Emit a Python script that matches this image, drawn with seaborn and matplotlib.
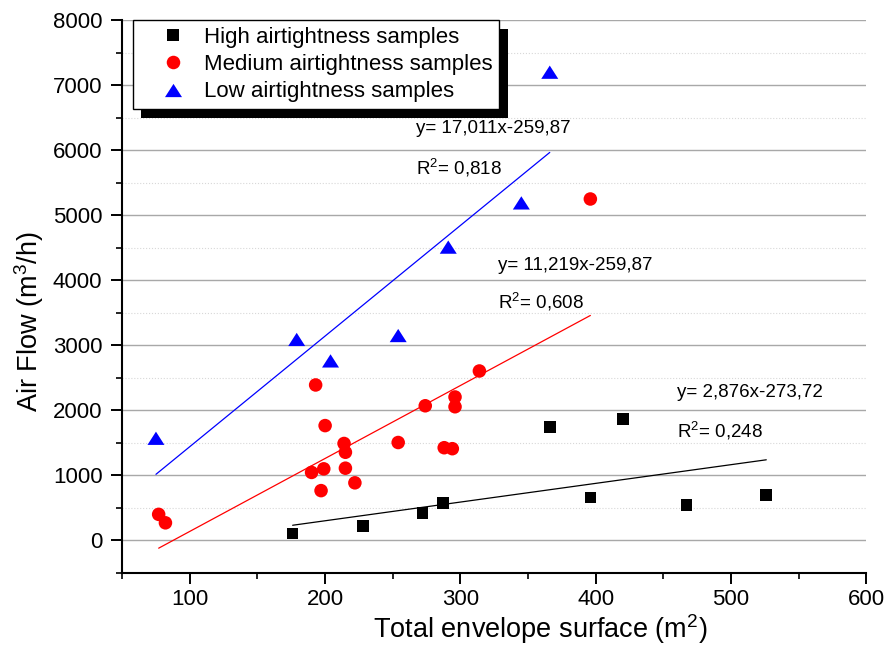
import matplotlib
matplotlib.use("Agg")
import matplotlib.pyplot as plt
import matplotlib.patheffects as pe
from matplotlib.lines import Line2D
from matplotlib.ticker import MultipleLocator
import seaborn as sns
import numpy as np
import pandas as pd

# High airtightness samples
high_x = [176, 228, 272, 287, 366, 420, 396, 467, 526]
high_y = [105, 225, 425, 570, 1740, 1870, 660, 540, 700]

# Medium airtightness samples
med_x = [77, 82, 193, 200, 190, 199, 197, 214, 215, 215, 222, 254, 274, 296, 296, 288, 294, 314, 396]
med_y = [400, 270, 2390, 1765, 1045, 1100, 765, 1490, 1355, 1110, 885, 1505, 2070, 2205, 2055, 1425, 1410, 2605, 5250]

# Low airtightness samples
low_x = [75, 179, 204, 254, 291, 345, 366]
low_y = [1570, 3090, 2760, 3150, 4510, 5190, 7200]

# linear fits (slope, intercept) as drawn in the figure
fit_high = (2.876, -273.72)
fit_med = (11.219, -984.0)
fit_low = (17.011, -259.87)

labels = ["High airtightness samples", "Medium airtightness samples", "Low airtightness samples"]
eq_texts = ["y= 2,876x-273,72", "y= 11,219x-259,87", "y= 17,011x-259,87"]
r2_texts = ["0,248", "0,608", "0,818"]

sns.set_theme(style="white")
plt.rcParams["font.family"] = ["Liberation Sans", "DejaVu Sans"]
plt.rcParams["mathtext.fontset"] = "custom"
plt.rcParams["mathtext.rm"] = "Liberation Sans"
for k in ["text.color", "axes.labelcolor", "xtick.color", "ytick.color"]:
    plt.rcParams[k] = "black"

fig = plt.figure(figsize=(8.85, 6.51), dpi=100)
ax = fig.add_axes([0.138, 0.12, 0.841, 0.849])

tri = [(-1, -0.78), (1, -0.78), (0, 0.78)]
groups = [
    (high_x, high_y, "black", "s", 70, fit_high),
    (med_x, med_y, "red", "o", 95, fit_med),
    (low_x, low_y, "blue", tri, 150, fit_low),
]

handles = []
for (gx, gy, col, mk, sz, fit), lab in zip(groups, labels):
    df = pd.DataFrame({"x": gx, "y": gy})
    sns.scatterplot(data=df, x="x", y="y", color=col, marker=mk, s=sz,
                    edgecolor="none", linewidth=0, ax=ax, zorder=3)
    xl = np.array([min(gx), max(gx)])
    line = pd.DataFrame({"x": xl, "y": fit[0] * xl + fit[1]})
    sns.lineplot(data=line, x="x", y="y", color=col, linewidth=0.9, ax=ax, zorder=2)
    handles.append(Line2D([], [], color=col, marker=mk, linestyle="none",
                          markersize=np.sqrt(sz), markeredgewidth=0, label=lab))

# equation annotations
ann_pos = [(460, 2280, 1690), (328, 4230, 3660), (267, 6340, 5720)]
for (x0, ye, yr), eq, r2 in zip(ann_pos, eq_texts, r2_texts):
    ax.text(x0, ye, eq, fontsize=13.5, va="center", ha="left")
    ax.text(x0, yr, r"$\mathregular{R^{2}}$= " + r2, fontsize=13.5, va="center", ha="left")

ax.set_xlim(50, 600)
ax.set_ylim(-500, 8000)
ax.xaxis.set_major_locator(MultipleLocator(100))
ax.xaxis.set_minor_locator(MultipleLocator(50))
ax.yaxis.set_major_locator(MultipleLocator(1000))
ax.yaxis.set_minor_locator(MultipleLocator(500))
ax.set_xticks([100, 200, 300, 400, 500, 600])

ax.yaxis.grid(True, which="major", color="#a8a8a8", linewidth=1.0, linestyle="-")
ax.yaxis.grid(True, which="minor", color="#d8d8d8", linewidth=0.8, linestyle=":")
ax.set_axisbelow(True)

for s in ["top", "right"]:
    ax.spines[s].set_visible(False)
for s in ["left", "bottom"]:
    ax.spines[s].set_color("black")
    ax.spines[s].set_linewidth(1.5)

ax.tick_params(which="major", direction="out", length=7.7, width=1.4, color="black",
               labelsize=16, bottom=True, left=True)
ax.tick_params(which="minor", direction="out", length=4.2, width=1.2, color="black",
               bottom=True, left=True)
ax.tick_params(axis="y", which="major", pad=6.5)
ax.tick_params(axis="x", which="major", pad=4.0)

ax.set_xlabel(r"Total envelope surface (m$\mathregular{^{2}}$)", fontsize=19.5)
ax.set_ylabel(r"Air Flow (m$\mathregular{^{3}}$/h)", fontsize=19.5)
ax.xaxis.set_label_coords(0.562, -0.072)
ax.yaxis.set_label_coords(-0.102, 0.454)

leg = ax.legend(handles=handles, loc="upper left", bbox_to_anchor=(0.0142, 1.0),
                borderaxespad=0, fontsize=16, frameon=True, fancybox=False,
                edgecolor="black", borderpad=0.3, labelspacing=0.28,
                handlelength=3.0, handletextpad=-0.1)
leg.get_frame().set_linewidth(1.0)
leg.get_frame().set_facecolor("white")
leg.get_frame().set_alpha(1)
leg.get_frame().set_path_effects([
    pe.SimplePatchShadow(offset=(6.2, -6.5), shadow_rgbFace="black", alpha=1),
    pe.Normal(),
])

fig.savefig("out.png", dpi=100)
